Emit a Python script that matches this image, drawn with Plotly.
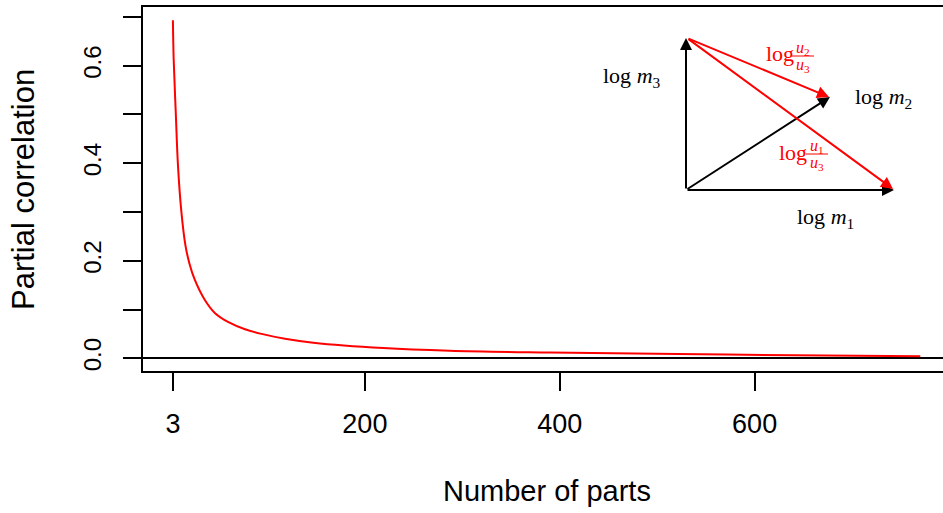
import plotly.graph_objects as go

# ---- data ----
n_parts = [3, 3.8, 5.9, 8.2, 11.7, 15.8, 20, 25.4, 35.6, 46, 60, 77, 94, 118, 147, 219, 287, 390, 571, 770]
partial_corr = [0.693, 0.612, 0.505, 0.395, 0.300, 0.232, 0.194, 0.161, 0.120, 0.093, 0.074, 0.0595,
                0.050, 0.040, 0.032, 0.021, 0.0155, 0.0118, 0.0075, 0.0040]

x_tick_vals = [3, 200, 400, 600]
x_tick_text = ["3", "200", "400", "600"]
y_tick_vals = [0.0, 0.1, 0.2, 0.3, 0.4, 0.5, 0.6, 0.7]
y_tick_text = ["0.0", "", "0.2", "", "0.4", "", "0.6", ""]

W, H = 943, 513
L, R, T, B = 143, 0, 7, 142
PW, PH = W - L - R, H - T - B


def px(x):
    return (x - L) / PW


def py(y):
    return (H - B - y) / PH


fig = go.Figure()
fig.add_trace(go.Scatter(x=n_parts, y=partial_corr, mode="lines",
                         line=dict(color="#ff0000", width=2, shape="spline", smoothing=1.0),
                         showlegend=False, hoverinfo="skip"))

FONT = "Liberation Sans, Arial, sans-serif"
SERIF = "Liberation Serif, DejaVu Serif, serif"

annotations = []

# inset vector diagram (pixel positions of the illustration)
O = (686, 190)
arrows = [
    (O, (686, 38), "black"),
    (O, (894, 190), "black"),
    (O, (830, 97), "black"),
    ((687, 38), (829, 97), "#ff0000"),
    ((687, 38), (893, 189), "#ff0000"),
]
for (tx, ty), (hx, hy), col in arrows:
    annotations.append(dict(x=px(hx), y=py(hy), xref="paper", yref="paper",
                            ax=tx - hx, ay=ty - hy, axref="pixel", ayref="pixel",
                            text="", showarrow=True, arrowhead=2, arrowsize=1.2,
                            arrowwidth=2, arrowcolor=col, standoff=0, startstandoff=0))


def label(x, y, txt, col="black", size=22, xanchor="center"):
    annotations.append(dict(x=px(x), y=py(y), xref="paper", yref="paper", text=txt,
                            showarrow=False, xanchor=xanchor, yanchor="middle",
                            font=dict(family=SERIF, size=size, color=col)))


label(632, 77, "log <i>m</i><sub>3</sub>")
label(883, 98, "log <i>m</i><sub>2</sub>")
label(825, 218, "log <i>m</i><sub>1</sub>")

shapes = []


def frac(xlog, ylog, fx, bar, num, den):
    label(xlog, ylog, "log", col="#ff0000", size=22, xanchor="left")
    label(fx, bar - 8, "<i>u</i><sub>%s</sub>" % num, col="#ff0000", size=16)
    label(fx, bar + 9, "<i>u</i><sub>%s</sub>" % den, col="#ff0000", size=16)
    shapes.append(dict(type="line", xref="paper", yref="paper",
                       x0=px(fx - 11), x1=px(fx + 11), y0=py(bar), y1=py(bar),
                       line=dict(color="#ff0000", width=1)))


frac(764, 53, 803, 56, "2", "3")
frac(777, 152, 817, 154, "1", "3")

# axis titles
annotations.append(dict(x=px(546.5), y=py(491), xref="paper", yref="paper", text="Number of parts",
                        showarrow=False, xanchor="center", yanchor="middle",
                        font=dict(family=FONT, size=29, color="black")))
annotations.append(dict(x=px(23), y=py(190), xref="paper", yref="paper", text="Partial correlation",
                        showarrow=False, xanchor="center", yanchor="middle", textangle=-90,
                        font=dict(family=FONT, size=31, color="black")))

fig.update_layout(
    width=W, height=H,
    margin=dict(l=L, r=R, t=T, b=B, pad=0),
    paper_bgcolor="white", plot_bgcolor="white",
    font=dict(family=FONT, size=26, color="black"),
    annotations=annotations, shapes=shapes,
    xaxis=dict(range=[-27.7, 793.3], tickvals=x_tick_vals, ticktext=x_tick_text,
               ticks="outside", ticklen=18, tickwidth=2, tickcolor="black",
               tickfont=dict(size=27),
               showline=True, linecolor="black", linewidth=2, mirror=True,
               showgrid=False, zeroline=False, ticklabelstandoff=10),
    yaxis=dict(range=[-0.0261, 0.7202], tickvals=y_tick_vals, ticktext=y_tick_text,
               ticks="outside", ticklen=18, tickwidth=2, tickcolor="black", tickangle=-90,
               tickfont=dict(size=24),
               showline=True, linecolor="black", linewidth=2, mirror=False,
               showgrid=False, zeroline=True, zerolinecolor="black", zerolinewidth=1.5,
               ticklabelstandoff=12),
)

fig.write_html("out.html", config={"displayModeBar": False},
               post_script="document.body.style.margin='0';")
